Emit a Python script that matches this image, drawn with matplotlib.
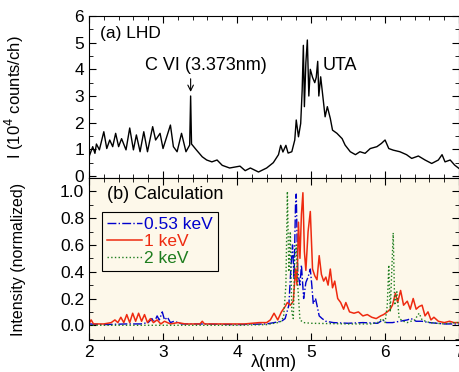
import matplotlib
matplotlib.use("Agg")
import matplotlib.pyplot as plt
from matplotlib.ticker import MultipleLocator, FormatStrFormatter

plt.rcParams['font.family'] = ['Liberation Sans', 'DejaVu Sans']

# (a) LHD measured spectrum, 10^4 counts/ch
lhd_wl = [2.00, 2.05, 2.08, 2.10, 2.14, 2.20, 2.24, 2.28, 2.32, 2.36, 2.40, 2.44, 2.50,
          2.55, 2.60, 2.64, 2.69, 2.74, 2.79, 2.86, 2.90, 2.96, 3.00, 3.05, 3.10, 3.14,
          3.19, 3.25, 3.31, 3.36, 3.373, 3.385, 3.45, 3.53, 3.59, 3.66, 3.73, 3.80, 3.90,
          4.04, 4.11, 4.18, 4.29, 4.40, 4.49, 4.56, 4.59, 4.62, 4.66, 4.69, 4.74, 4.78,
          4.80, 4.83, 4.86, 4.88, 4.896, 4.91, 4.93, 4.95, 4.97, 4.99, 5.02, 5.05, 5.07,
          5.09, 5.105, 5.13, 5.16, 5.19, 5.22, 5.26, 5.29, 5.35, 5.42, 5.46, 5.53, 5.60,
          5.66, 5.73, 5.80, 5.89, 5.95, 6.00, 6.05, 6.11, 6.20, 6.29, 6.36, 6.45, 6.54,
          6.63, 6.72, 6.77, 6.81, 6.88, 6.94, 7.00]
lhd_int = [0.72, 1.10, 0.85, 1.20, 0.98, 1.66, 1.03, 1.35, 1.10, 1.60, 1.10, 1.40, 0.98,
           1.80, 0.98, 1.54, 0.91, 1.66, 0.91, 1.85, 1.35, 1.60, 1.03, 1.47, 1.91, 1.10,
           0.91, 1.60, 0.91, 1.16, 3.00, 1.20, 0.98, 0.72, 0.60, 0.53, 0.60, 0.40, 0.30,
           0.37, 0.20, 0.30, 0.15, 0.30, 0.50, 0.80, 1.15, 0.90, 1.15, 0.86, 0.91, 1.35,
           2.10, 1.47, 1.97, 3.22, 4.90, 2.60, 4.25, 5.10, 3.00, 4.00, 3.70, 3.50, 3.70,
           4.30, 3.00, 3.72, 2.97, 2.22, 2.60, 2.16, 1.72, 1.60, 1.40, 1.16, 0.91, 0.80,
           0.91, 0.85, 1.03, 1.10, 1.22, 1.35, 1.03, 0.97, 0.91, 0.80, 0.66, 0.75, 0.60,
           0.47, 0.60, 0.80, 0.53, 0.60, 0.41, 0.28]

# (b) calculated spectra, normalized
red_wl = [2.00, 2.01, 2.03, 2.06, 2.10, 2.20, 2.30, 2.35, 2.39, 2.43, 2.47, 2.51, 2.55,
          2.59, 2.63, 2.67, 2.71, 2.75, 2.79, 2.83, 2.87, 2.92, 2.97, 3.02, 3.10, 3.20,
          3.30, 3.40, 3.50, 3.53, 3.56, 3.70, 3.90, 4.10, 4.30, 4.40, 4.45, 4.50, 4.55,
          4.60, 4.65, 4.68, 4.72, 4.76, 4.79, 4.81, 4.83, 4.85, 4.87, 4.89, 4.91, 4.93,
          4.96, 4.99, 5.02, 5.05, 5.08, 5.11, 5.14, 5.17, 5.20, 5.23, 5.26, 5.29, 5.32,
          5.36, 5.40, 5.44, 5.47, 5.52, 5.58, 5.64, 5.70, 5.76, 5.82, 5.88, 5.94, 5.98,
          6.03, 6.07, 6.10, 6.14, 6.17, 6.21, 6.25, 6.30, 6.34, 6.38, 6.42, 6.46, 6.50,
          6.54, 6.58, 6.62, 6.66, 6.72, 6.80, 6.87, 6.93, 7.00]
red_int = [0.07, 0.02, 0.04, 0.01, 0.01, 0.01, 0.02, 0.04, 0.02, 0.06, 0.02, 0.08, 0.02,
           0.09, 0.03, 0.09, 0.03, 0.08, 0.02, 0.05, 0.02, 0.04, 0.01, 0.03, 0.01, 0.02,
           0.01, 0.01, 0.01, 0.03, 0.01, 0.01, 0.01, 0.01, 0.02, 0.02, 0.04, 0.09, 0.04,
           0.10, 0.14, 0.17, 0.15, 0.18, 0.42, 0.30, 0.77, 0.50, 0.83, 0.99, 0.55, 0.41,
           0.70, 0.85, 0.42, 0.37, 0.34, 0.52, 0.38, 0.33, 0.36, 0.30, 0.42, 0.28, 0.33,
           0.20, 0.17, 0.12, 0.17, 0.10, 0.09, 0.10, 0.07, 0.08, 0.06, 0.05, 0.07, 0.08,
           0.10, 0.12, 0.15, 0.24, 0.17, 0.26, 0.15, 0.18, 0.12, 0.20, 0.12, 0.14, 0.15,
           0.07, 0.10, 0.04, 0.06, 0.03, 0.02, 0.03, 0.02, 0.02]

blue_wl = [2.00, 2.20, 2.50, 2.70, 2.80, 2.85, 2.88, 2.92, 2.95, 2.99, 3.02, 3.06, 3.10,
           3.15, 3.25, 3.50, 4.00, 4.40, 4.50, 4.60, 4.65, 4.70, 4.73, 4.75, 4.77, 4.79,
           4.80, 4.82, 4.85, 4.87, 4.90, 4.93, 4.96, 4.99, 5.01, 5.03, 5.06, 5.08, 5.11,
           5.15, 5.20, 5.30, 5.50, 5.70, 5.90, 5.97, 6.02, 6.10, 6.20, 6.30, 6.35, 6.42,
           6.50, 6.60, 6.80, 7.00]
blue_int = [0.01, 0.005, 0.01, 0.01, 0.02, 0.05, 0.02, 0.07, 0.04, 0.10, 0.04, 0.06, 0.02,
            0.03, 0.01, 0.01, 0.005, 0.01, 0.02, 0.03, 0.05, 0.15, 0.45, 0.60, 0.35, 0.90,
            0.98, 0.40, 0.30, 0.45, 0.20, 0.32, 0.36, 0.42, 0.30, 0.16, 0.20, 0.15, 0.07,
            0.05, 0.03, 0.02, 0.015, 0.02, 0.015, 0.04, 0.02, 0.02, 0.03, 0.04, 0.05, 0.03,
            0.03, 0.02, 0.01, 0.01]

green_wl = [2.00, 3.00, 4.00, 4.40, 4.55, 4.60, 4.63, 4.66, 4.68, 4.70, 4.72, 4.74, 4.76,
            4.78, 4.80, 4.82, 4.85, 4.90, 5.00, 5.50, 5.80, 5.90, 5.96, 6.00, 6.03, 6.05,
            6.07, 6.09, 6.11, 6.13, 6.16, 6.19, 6.25, 6.30, 6.40, 6.46, 6.50, 6.60, 6.80,
            6.95, 7.00]
green_int = [0.0, 0.0, 0.0, 0.005, 0.02, 0.03, 0.07, 0.30, 1.00, 0.40, 0.70, 0.10, 0.05,
             0.50, 0.60, 0.30, 0.04, 0.02, 0.015, 0.01, 0.01, 0.02, 0.05, 0.02, 0.15, 0.45,
             0.10, 0.40, 0.69, 0.15, 0.25, 0.05, 0.03, 0.02, 0.04, 0.09, 0.04, 0.02, 0.01,
             0.02, 0.02]

fig = plt.figure(figsize=(4.6, 3.72), dpi=100)
ax1 = fig.add_axes([0.1935, 0.5215, 0.8045, 0.4355])
ax2 = fig.add_axes([0.1935, 0.086, 0.8045, 0.4355])

ax1.plot(lhd_wl, lhd_int, color='black', lw=1.0)
ax1.set_xlim(2, 7)
ax1.set_ylim(-0.075, 6)
ax1.yaxis.set_major_locator(MultipleLocator(1))
ax1.yaxis.set_minor_locator(MultipleLocator(0.5))
ax1.tick_params(labelbottom=False)
ax1.set_ylabel('I (10$^4$ counts/ch)', fontsize=12)
ax1.yaxis.set_label_coords(-0.17, 0.5)
ax1.text(2.15, 5.35, '(a) LHD', fontsize=12.5, va='center')
ax1.text(2.76, 4.15, 'C VI (3.373nm)', fontsize=13, va='center')
ax1.annotate('', xy=(3.373, 3.05), xytext=(3.373, 3.75),
             arrowprops=dict(arrowstyle='->', color='black', lw=0.8))
ax1.text(5.16, 4.15, 'UTA', fontsize=13, va='center')

ax2.set_facecolor('#fdf8ea')
ax2.plot(blue_wl, blue_int, color='#0000cc', lw=1.0, ls='-.', label='0.53 keV')
ax2.plot(red_wl, red_int, color='#ee2a10', lw=1.1, ls='-', label='1 keV')
ax2.plot(green_wl, green_int, color='#1e7d1e', lw=1.0, ls=':', label='2 keV')
ax2.set_xlim(2, 7)
ax2.set_ylim(-0.11, 1.1)
ax2.yaxis.set_major_locator(MultipleLocator(0.2))
ax2.yaxis.set_minor_locator(MultipleLocator(0.1))
ax2.yaxis.set_major_formatter(FormatStrFormatter('%.1f'))
ax2.set_ylabel('Intensity (normalized)', fontsize=11.5)
ax2.yaxis.set_label_coords(-0.17, 0.5)
ax2.set_xlabel('λ(nm)', fontsize=13, labelpad=-4)
ax2.text(2.24, 0.98, '(b) Calculation', fontsize=13, va='center')
leg = ax2.legend(loc='upper left', bbox_to_anchor=(0.035, 0.79), fontsize=12.5,
                 frameon=True, fancybox=False, edgecolor='black', facecolor='#fdf8ea',
                 framealpha=1, handlelength=2.0, handletextpad=0.1, borderpad=0.3,
                 labelspacing=0.1, borderaxespad=0, labelcolor='linecolor')
leg.get_frame().set_linewidth(0.8)

for ax in (ax1, ax2):
    ax.xaxis.set_major_locator(MultipleLocator(1))
    ax.xaxis.set_minor_locator(MultipleLocator(0.2))
    ax.tick_params(which='both', direction='in', top=True, right=True, labelsize=12.5)
    ax.tick_params(which='major', length=5)
    ax.tick_params(which='minor', length=3)

fig.savefig('out.png', dpi=100)
